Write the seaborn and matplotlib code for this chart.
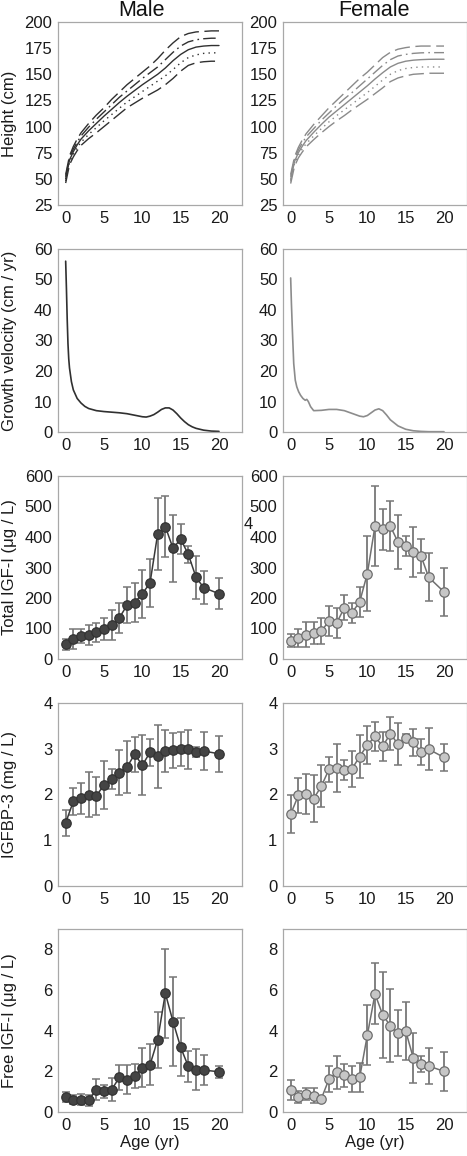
import matplotlib
matplotlib.use("Agg")
import matplotlib.pyplot as plt
import seaborn as sns
import pandas as pd

# ---- data ----
height_age = [0, 0.5, 1, 1.5, 2, 3, 4, 5, 6, 7, 8, 9, 10, 11, 12, 13, 14, 15, 16, 17, 18, 19, 20]

male_p2 = [54, 72, 81, 88, 94, 103, 111, 118, 126, 133, 140, 146, 152, 158, 165, 173, 180, 186, 189, 190.5, 191, 191.5, 191.5]
male_p1 = [52, 70, 78.5, 85, 91, 99.5, 107, 114, 121, 128, 134, 140, 146, 151.5, 157, 164, 171, 177, 181, 183, 184, 184.5, 184.5]
male_mean = [50, 68, 76, 82.5, 88, 96, 103, 110, 116.5, 123, 129, 134.5, 140, 145, 150, 156, 163, 169, 173.5, 176, 177, 177.5, 177.5]
male_m1 = [48, 66, 73.5, 80, 85, 92.5, 99, 105.5, 111.5, 117.5, 123.5, 128.5, 133.5, 138.5, 143.5, 148.5, 154.5, 161, 166, 168.5, 170, 170.5, 170.5]
male_m2 = [46, 63.5, 71, 77, 82, 88.5, 94, 100, 106, 112, 118, 122.5, 127, 131, 135, 140, 146, 153, 158.5, 161, 162, 162.5, 162.5]

female_p2 = [54, 71, 80, 87, 93, 102, 110, 118, 125, 132, 139, 146, 152, 159, 166, 171, 174, 175.5, 176.5, 177, 177, 177, 177]
female_p1 = [52, 69, 77.5, 84, 90, 98, 106, 113, 120, 126.5, 132.5, 139, 145.5, 152, 158.5, 164, 167.5, 169, 170, 170.5, 170.7, 170.7, 170.7]
female_mean = [49.5, 66.5, 75, 81, 86.5, 94.5, 102, 109, 115, 121, 127, 133, 139, 145.5, 151.5, 157, 160.5, 162.5, 163.5, 164, 164.3, 164.4, 164.4]
female_m1 = [47.5, 64.5, 72.5, 78.5, 83.5, 91, 98, 104.5, 110.5, 116, 121.5, 127, 132.5, 138.5, 144.5, 150, 153.5, 155.5, 156.5, 157, 157, 157, 157]
female_m2 = [45.5, 62, 70, 75.5, 80.5, 87.5, 94, 100, 105.5, 110.5, 116, 121, 126, 131.5, 137, 143, 146.5, 148.5, 150, 150.5, 151, 151, 151]

vel_age_m = [0, 0.1, 0.2, 0.3, 0.4, 0.5, 0.75, 1, 1.5, 2, 2.5, 3, 4, 5, 6, 7, 8, 9, 10, 10.5, 11, 11.5,
             12, 12.5, 13, 13.5, 14, 14.5, 15, 15.5, 16, 16.5, 17, 18, 19, 20]
vel_male = [56, 47, 37, 29, 24, 21, 16.5, 13.8, 11, 9.5, 8.4, 7.7, 7.0, 6.7, 6.5, 6.3, 6.0, 5.5, 5.0, 4.9, 5.2, 5.7,
            6.5, 7.4, 7.9, 7.9, 7.2, 6.0, 4.6, 3.4, 2.4, 1.7, 1.2, 0.6, 0.3, 0.2]
vel_age_f = [0, 0.1, 0.2, 0.26, 0.4, 0.6, 0.8, 1.04, 1.3, 1.6, 1.9, 2.1, 2.3, 2.6, 3, 4, 5, 6, 7, 8, 9, 9.5,
             10, 10.5, 11, 11.5, 12, 12.5, 13, 14, 15, 16, 17, 18, 19, 20]
vel_female = [50.5, 42, 35, 31, 22.4, 17, 14.8, 13.2, 12, 11, 10.4, 10.7, 10, 8.3, 7.0, 7.1, 7.4, 7.4, 7.0, 6.1, 5.2, 5.0,
              5.4, 6.3, 7.2, 7.6, 7.0, 5.6, 4.0, 2.0, 0.9, 0.4, 0.2, 0.1, 0.1, 0.1]

lab_age = [0, 1, 2, 3, 4, 5, 6, 7, 8, 9, 10, 11, 12, 13, 14, 15, 16, 17, 18, 20]

igf_male = [48, 65, 75, 78, 88, 98, 111, 135, 176, 185, 214, 249, 410, 434, 363, 393, 343, 268, 234, 214]
igf_male_sd = [19, 33, 23, 32, 31, 37, 49, 49, 59, 65, 79, 78, 117, 100, 110, 50, 27, 70, 53, 50]
igf_female = [60, 70, 80, 84, 91, 125, 118, 168, 152, 187, 280, 436, 426, 436, 383, 371, 351, 338, 268, 220]
igf_female_sd = [21, 30, 40, 36, 43, 50, 50, 41, 33, 50, 122, 131, 67, 82, 89, 32, 83, 55, 79, 79]

bp3_male = [1.38, 1.85, 1.92, 2.0, 1.97, 2.21, 2.33, 2.48, 2.6, 2.88, 2.64, 2.92, 2.84, 2.95, 2.97, 2.99, 2.99, 2.93, 2.95, 2.89]
bp3_male_sd = [0.28, 0.30, 0.34, 0.50, 0.42, 0.53, 0.22, 0.50, 0.57, 0.38, 0.66, 0.29, 0.69, 0.46, 0.38, 0.37, 0.43, 0.11, 0.42, 0.39]
bp3_female = [1.57, 1.98, 2.01, 1.91, 2.18, 2.55, 2.58, 2.54, 2.56, 2.83, 3.08, 3.27, 3.05, 3.33, 3.10, 3.24, 3.14, 2.93, 2.99, 2.81]
bp3_female_sd = [0.41, 0.38, 0.44, 0.51, 0.46, 0.27, 0.53, 0.22, 0.39, 0.47, 0.42, 0.32, 0.32, 0.36, 0.46, 0.08, 0.30, 0.29, 0.46, 0.29]

free_male = [0.72, 0.61, 0.61, 0.57, 1.10, 1.01, 1.10, 1.70, 1.59, 1.78, 2.18, 2.32, 3.55, 5.84, 4.45, 3.18, 2.24, 2.08, 2.06, 1.98]
free_male_sd = [0.25, 0.21, 0.26, 0.28, 0.53, 0.33, 0.55, 0.61, 0.71, 0.60, 0.96, 1.00, 1.37, 2.20, 2.20, 1.43, 0.75, 1.00, 0.73, 0.29]
free_female = [1.06, 0.74, 0.87, 0.80, 0.65, 1.62, 1.96, 1.80, 1.62, 1.70, 3.78, 5.81, 4.78, 4.24, 3.88, 3.99, 2.65, 2.36, 2.26, 2.00]
free_female_sd = [0.49, 0.29, 0.29, 0.38, 0.0, 0.66, 0.81, 0.56, 0.65, 0.72, 1.47, 1.50, 2.10, 1.80, 1.12, 1.42, 1.22, 0.38, 0.90, 0.97]

col_titles = ["Male", "Female"]
row_labels = ["Height (cm)", "Growth velocity (cm / yr)", "Total IGF-I (\u03bcg / L)",
              "IGFBP-3 (mg / L)", "Free IGF-I (\u03bcg / L)"]

# ---- style ----
sns.set_style("white")
plt.rcParams["font.family"] = ["Liberation Sans", "DejaVu Sans"]

W, H = 467, 1156
fig = plt.figure(figsize=(W / 100, H / 100), dpi=100)

ax_left_px = [58, 283]
ax_bottom_px = [205, 432, 659, 886, 1112]
ax_w, ax_h = 184, 183

ylims = [(25, 200), (0, 60), (0, 600), (0, 4), (0, 9)]
yticks = [range(25, 201, 25), range(0, 61, 10), range(0, 601, 100), range(0, 5), range(0, 9, 2)]

line_cols = ["#303030", "#8a8a8a"]
spine_col = "#a8a8a8"
txt_col = "#1a1a1a"
fs = 12
styles = [(0, (11, 4)), (0, (9, 3, 1.2, 3)), "-", (0, (1, 3)), (0, (11, 4))]

axes = [[None, None] for _ in range(5)]
for r in range(5):
    for c in range(2):
        ax = fig.add_axes([ax_left_px[c] / W, 1 - ax_bottom_px[r] / H, ax_w / W, ax_h / H])
        axes[r][c] = ax
        ax.set_xlim(-1, 23)
        ax.set_ylim(*ylims[r])
        ax.set_xticks(range(0, 21, 5))
        ax.set_yticks(list(yticks[r]))
        for s in ax.spines.values():
            s.set_color(spine_col)
            s.set_linewidth(0.9)
        ax.tick_params(direction="in", length=3, width=0.8, color="#888888",
                       labelsize=fs, labelcolor=txt_col, pad=4)

# row 1: height curves
height_sets = [[male_p2, male_p1, male_mean, male_m1, male_m2],
               [female_p2, female_p1, female_mean, female_m1, female_m2]]
for c in range(2):
    for vals, ls in zip(height_sets[c], styles):
        sns.lineplot(x=height_age, y=vals, ax=axes[0][c], color=line_cols[c],
                     linewidth=1.0, linestyle=ls)

# row 2: growth velocity
sns.lineplot(x=vel_age_m, y=vel_male, ax=axes[1][0], color=line_cols[0], linewidth=1.2)
sns.lineplot(x=vel_age_f, y=vel_female, ax=axes[1][1], color="#8c8c8c", linewidth=1.2)

# rows 3-5: lab values with SD bars
lab_sets = [
    [(igf_male, igf_male_sd), (igf_female, igf_female_sd)],
    [(bp3_male, bp3_male_sd), (bp3_female, bp3_female_sd)],
    [(free_male, free_male_sd), (free_female, free_female_sd)],
]
marker_face = ["#444444", "#c6c6c6"]
marker_edge = ["#333333", "#6e6e6e"]
conn_col = ["#3a3a3a", "#707070"]
for i, row in enumerate(lab_sets):
    for c, (vals, sd) in enumerate(row):
        ax = axes[i + 2][c]
        ax.errorbar(lab_age, vals, yerr=sd, fmt="none", ecolor="#777777",
                    elinewidth=1.3, capsize=2.6, capthick=1.1, zorder=1)
        df = pd.DataFrame({"age": lab_age, "val": vals})
        sns.lineplot(data=df, x="age", y="val", ax=ax, color=conn_col[c], linewidth=1.1,
                     marker="o", markersize=6.8, markerfacecolor=marker_face[c],
                     markeredgecolor=marker_edge[c], markeredgewidth=0.9, zorder=3)

# labels
for r in range(5):
    for c in range(2):
        axes[r][c].set_xlabel("")
        axes[r][c].set_ylabel("")
    axes[r][0].set_ylabel(row_labels[r], fontsize=fs, color=txt_col, va="center")
    axes[r][0].yaxis.set_label_coords(-0.262, 0.5)
for c in range(2):
    axes[4][c].set_xlabel("Age (yr)", fontsize=fs, color=txt_col)
    axes[4][c].xaxis.set_label_coords(0.5, -0.125)

fig.text(141 / W, 1 - 11 / H, col_titles[0], fontsize=15.5, ha="center", va="center", color="#111111")
fig.text(374 / W, 1 - 11 / H, col_titles[1], fontsize=15.5, ha="center", va="center", color="#111111")

# stray panel letter visible in the reference
fig.text(248 / W, 1 - 524 / H, "4", fontsize=fs, ha="center", va="center", color=txt_col)

fig.savefig("out.png", dpi=100)
